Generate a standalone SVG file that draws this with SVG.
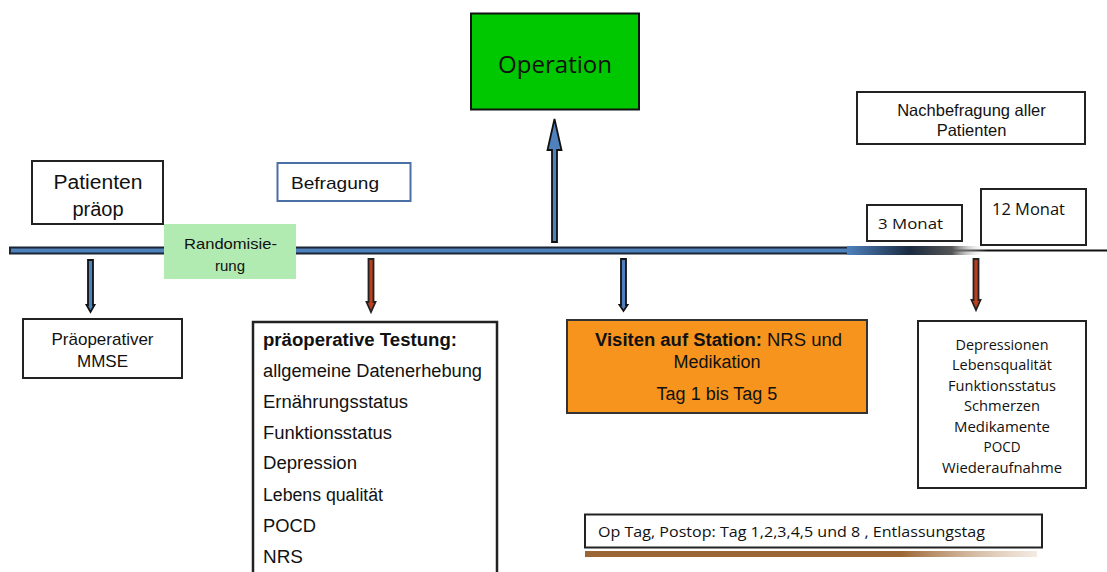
<svg xmlns="http://www.w3.org/2000/svg" width="1107" height="572" viewBox="0 0 1107 572">
<defs>
<style>
text{font-family:"Liberation Sans",Arial,sans-serif;fill:#111}
.box{fill:#fff;stroke:#222;stroke-width:2}
.cal{font-family:"Open Sans","Liberation Sans",sans-serif}
.blue{fill:#4f81bd;stroke:#111;stroke-width:1.8}
.red{fill:#b8401e;stroke:#222;stroke-width:1.8}
</style>
<linearGradient id="tl" x1="0" x2="1" y1="0" y2="0">
<stop offset="0" stop-color="#4f81bd"/>
<stop offset="0.45" stop-color="#1a2a40"/>
<stop offset="0.75" stop-color="#555"/>
<stop offset="1" stop-color="#fff" stop-opacity="0"/>
</linearGradient>
<linearGradient id="br" x1="0" x2="1" y1="0" y2="0">
<stop offset="0" stop-color="#9c6634"/>
<stop offset="0.7" stop-color="#9c6634"/>
<stop offset="1" stop-color="#d8b89a" stop-opacity="0.3"/>
</linearGradient>
</defs>

<g id="connectors">
<!-- timeline -->
<rect x="10" y="247.5" width="840" height="6" fill="#4f81bd" stroke="#1c2533" stroke-width="2"/>
<line x1="940" y1="250.5" x2="1107" y2="250.5" stroke="#111" stroke-width="2"/>
<rect x="847" y="246" width="140" height="9" fill="url(#tl)"/>
<!-- up arrow to Operation -->
<path class="blue" d="M552,242 L552,150 L547.5,150 L554.5,119 L561.5,150 L557,150 L557,242 Z"/>
<!-- down arrows -->
<path class="blue" d="M88,260 L93,260 L93,305 L94.5,305 L90.5,312 L86.5,305 L88,305 Z"/>
<path class="red" d="M368.5,259 L373.5,259 L373.5,302 L375.5,302 L371,312 L366.5,302 L368.5,302 Z"/>
<path class="blue" d="M621,259 L626,259 L626,305 L627.5,305 L623.5,311 L619.5,305 L621,305 Z"/>
<path class="red" d="M973.5,259 L978.5,259 L978.5,300 L980.5,300 L976,310 L971.5,300 L973.5,300 Z"/>
<!-- bottom brown arrow -->
<rect x="585" y="551" width="452" height="6" fill="url(#br)"/>
</g>

<g id="patienten">
<rect class="box" x="32" y="161" width="131" height="63"/>
<text x="98" y="189" font-size="20" text-anchor="middle" textLength="89" lengthAdjust="spacingAndGlyphs">Patienten</text>
<text x="98" y="216" font-size="20" text-anchor="middle">präop</text>
</g>

<g id="befragung">
<rect x="277.5" y="163" width="133" height="38" fill="#fff" stroke="#4a6fa5" stroke-width="2"/>
<text x="291" y="189" font-size="17" textLength="88" lengthAdjust="spacingAndGlyphs">Befragung</text>
</g>

<g id="randomisierung">
<rect x="164" y="224" width="132" height="55" fill="#b2ebb2"/>
<text x="184" y="249" font-size="15" textLength="93" lengthAdjust="spacingAndGlyphs">Randomisie-</text>
<text x="230" y="271" font-size="15" text-anchor="middle">rung</text>
</g>

<g id="operation">
<rect x="471" y="13.5" width="168" height="96" fill="#00c800" stroke="#111" stroke-width="2"/>
<text x="498" y="73" font-size="24" class="cal" textLength="114" lengthAdjust="spacingAndGlyphs">Operation</text>
</g>

<g id="nachbefragung">
<rect class="box" x="857" y="92" width="228" height="52"/>
<text x="971.5" y="116" font-size="16.5" text-anchor="middle">Nachbefragung aller</text>
<text x="971.5" y="136" font-size="16.5" text-anchor="middle">Patienten</text>
</g>

<g id="monat3">
<rect class="box" x="867" y="205" width="95" height="36"/>
<text x="878" y="229" font-size="15" class="cal" textLength="65" lengthAdjust="spacingAndGlyphs">3 Monat</text>
</g>

<g id="monat12">
<rect class="box" x="981" y="189" width="105" height="56"/>
<text x="992" y="215" font-size="17" class="cal" textLength="73" lengthAdjust="spacingAndGlyphs">12 Monat</text>
</g>

<g id="mmse">
<rect class="box" x="23" y="319" width="159" height="59"/>
<text x="102.5" y="345" font-size="17" text-anchor="middle">Präoperativer</text>
<text x="102.5" y="367" font-size="17" text-anchor="middle">MMSE</text>
</g>

<g id="testung">
<path d="M253,573 L253,322 L497,322 L497,573" fill="#fff" stroke="#222" stroke-width="2.5"/>
<g font-size="18">
<text x="263" y="346" font-weight="bold" textLength="194" lengthAdjust="spacingAndGlyphs">präoperative Testung:</text>
<text x="263" y="377" textLength="219" lengthAdjust="spacingAndGlyphs">allgemeine Datenerhebung</text>
<text x="263" y="408" textLength="145" lengthAdjust="spacingAndGlyphs">Ernährungsstatus</text>
<text x="263" y="439" textLength="129" lengthAdjust="spacingAndGlyphs">Funktionsstatus</text>
<text x="263" y="469" textLength="94" lengthAdjust="spacingAndGlyphs">Depression</text>
<text x="263" y="501" textLength="120" lengthAdjust="spacingAndGlyphs">Lebens qualität</text>
<text x="263" y="532" textLength="53" lengthAdjust="spacingAndGlyphs">POCD</text>
<text x="263" y="563" textLength="40" lengthAdjust="spacingAndGlyphs">NRS</text>
</g>
</g>

<g id="visiten">
<rect x="567" y="320" width="300" height="93" fill="#f7941d" stroke="#333" stroke-width="2"/>
<text x="595" y="346" font-size="18" textLength="247" lengthAdjust="spacingAndGlyphs"><tspan font-weight="bold">Visiten auf Station:</tspan> NRS und</text>
<text x="717" y="368" font-size="18" text-anchor="middle">Medikation</text>
<text x="717" y="400" font-size="18" text-anchor="middle">Tag 1 bis Tag 5</text>
</g>

<g id="nachuntersuchung">
<rect class="box" x="918" y="321" width="168" height="167"/>
<g font-size="14" text-anchor="middle">
<text x="1002" y="350" class="cal" textLength="93" lengthAdjust="spacingAndGlyphs">Depressionen</text>
<text x="1002" y="370" class="cal" textLength="100" lengthAdjust="spacingAndGlyphs">Lebensqualität</text>
<text x="1002" y="391" class="cal" textLength="108" lengthAdjust="spacingAndGlyphs">Funktionsstatus</text>
<text x="1002" y="411" class="cal" textLength="76" lengthAdjust="spacingAndGlyphs">Schmerzen</text>
<text x="1002" y="432" class="cal" textLength="96" lengthAdjust="spacingAndGlyphs">Medikamente</text>
<text x="1002" y="452" class="cal" textLength="37" lengthAdjust="spacingAndGlyphs">POCD</text>
<text x="1002" y="473" class="cal" textLength="120" lengthAdjust="spacingAndGlyphs">Wiederaufnahme</text>
</g>
</g>

<g id="optag">
<rect class="box" x="585" y="514.5" width="457" height="33"/>
<text x="598" y="537" font-size="15" class="cal" textLength="387" lengthAdjust="spacingAndGlyphs">Op Tag, Postop: Tag  1,2,3,4,5 und 8 , Entlassungstag</text>
</g>
</svg>
